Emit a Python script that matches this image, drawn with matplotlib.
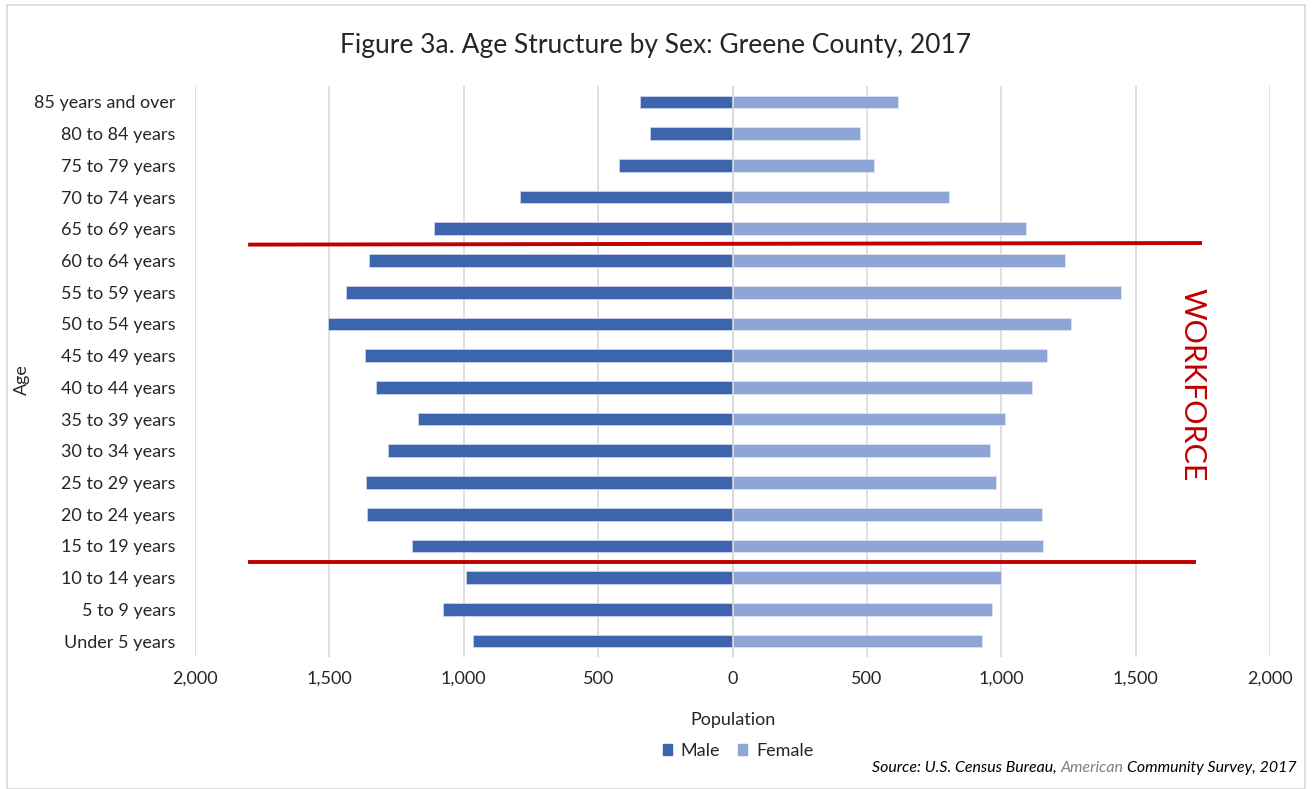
import matplotlib
matplotlib.use("Agg")
import matplotlib.pyplot as plt
import numpy as np
from matplotlib.patches import Rectangle

plt.rcParams['font.family'] = ['Lato', 'DejaVu Sans']

age_groups = ["Under 5 years", "5 to 9 years", "10 to 14 years", "15 to 19 years",
              "20 to 24 years", "25 to 29 years", "30 to 34 years", "35 to 39 years",
              "40 to 44 years", "45 to 49 years", "50 to 54 years", "55 to 59 years",
              "60 to 64 years", "65 to 69 years", "70 to 74 years", "75 to 79 years",
              "80 to 84 years", "85 years and over"]
male = [964, 1079, 993, 1193, 1360, 1363, 1281, 1171, 1327, 1366, 1505, 1438,
        1354, 1112, 792, 424, 307, 346]
female = [928, 967, 999, 1155, 1151, 979, 957, 1015, 1113, 1172, 1259, 1444,
          1236, 1093, 805, 526, 474, 616]
xticks = [-2000, -1500, -1000, -500, 0, 500, 1000, 1500, 2000]
xtick_labels = ["2,000", "1,500", "1,000", "500", "0", "500", "1,000", "1,500", "2,000"]

male_color = "#3D65AD"
female_color = "#8FA5D5"
text_color = "#262626"

W, H = 1312, 789
fig = plt.figure(figsize=(W / 100, H / 100), dpi=100)
ax = fig.add_axes([195 / W, 1 - 657 / H, (1270 - 195) / W, (657 - 86) / H])

y = np.arange(len(age_groups))
ax.barh(y, [-m for m in male], height=0.4, color=male_color, edgecolor="#C9D3EA",
        linewidth=0.6, label="Male", zorder=3)
ax.barh(y, female, height=0.4, color=female_color, edgecolor="#DCE3F2",
        linewidth=0.6, label="Female", zorder=3)

ax.set_xlim(-2000, 2000)
ax.set_ylim(-0.5, len(age_groups) - 0.5)
ax.set_xticks(xticks)
ax.set_xticklabels(xtick_labels, fontsize=13, color=text_color)
ax.set_yticks(y)
ax.set_yticklabels(age_groups, fontsize=13, color=text_color)
ax.tick_params(axis='both', length=0)
ax.tick_params(axis='x', pad=10)
ax.tick_params(axis='y', pad=14)
ax.grid(axis='x', color="#D9D9D9", linewidth=1.2, zorder=0)
ax.axvline(0, color="#D9D9D9", linewidth=1.2, zorder=4)
for s in ax.spines.values():
    s.set_visible(False)

# Workforce boundary lines
ax.plot([-1795, 1740], [12.5, 12.55], color="#C00000", linewidth=2.8, zorder=5,
        clip_on=False)
ax.plot([-1795, 1718], [2.5, 2.5], color="#C00000", linewidth=2.8, zorder=5,
        clip_on=False)
ax.text(1713, 8.1, "WORKFORCE", rotation=-90, color="#C00000", fontsize=22,
        ha='center', va='center')

fig.text(733 / W, 1 - 720 / H, "Population", fontsize=13, color=text_color,
         ha='center', va='center')
fig.text(22 / W, 1 - 380 / H, "Age", rotation=90, fontsize=13, color=text_color,
         ha='center', va='center')

fig.text(655 / W, 1 - 45 / H, "Figure 3a. Age Structure by Sex: Greene County, 2017",
         fontsize=19, color=text_color, ha='center', va='center')

leg = fig.legend(handles=[Rectangle((0, 0), 1, 1, color=male_color),
                          Rectangle((0, 0), 1, 1, color=female_color)],
                 labels=["Male", "Female"], loc='center', ncol=2,
                 bbox_to_anchor=(738 / W, 1 - 751 / H), frameon=False,
                 fontsize=13, handlelength=0.5, handleheight=0.6,
                 handletextpad=0.5, columnspacing=1.0)
for t in leg.get_texts():
    t.set_color(text_color)

# Source line, right-aligned with a gray "American"
renderer = fig.canvas.get_renderer()
x_right = 1297 / W
y_src = 1 - 768 / H
parts = [("Source: U.S. Census Bureau, ", "#000000"),
         ("American ", "#7F7F7F"),
         ("Community Survey, 2017", "#000000")]
x_cur = x_right
for txt, col in reversed(parts):
    t = fig.text(x_cur, y_src, txt, fontsize=11.4, style='italic', color=col,
                 ha='right', va='center')
    bb = t.get_window_extent(renderer=renderer)
    x_cur -= bb.width / W

# Outer chart border
fig.patches.append(Rectangle((7 / W, 0), (W - 14) / W, 1 - 5 / H,
                             transform=fig.transFigure, fill=False,
                             edgecolor="#D9D9D9", linewidth=1.2))

fig.savefig("out.png", dpi=100)
